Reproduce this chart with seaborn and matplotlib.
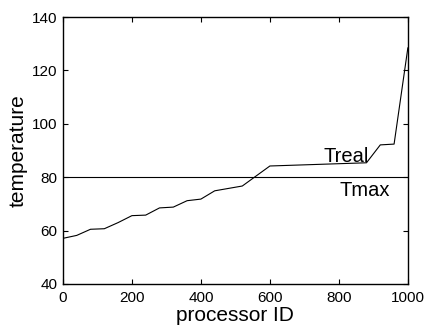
import matplotlib
matplotlib.use("Agg")
import matplotlib.pyplot as plt
import seaborn as sns
import pandas as pd

processor_id = [0, 40, 80, 120, 160, 200, 240, 280, 320, 360, 400, 440, 480, 520, 600, 880, 920, 960, 1000]
treal = [57.1, 58.2, 60.5, 60.7, 63.0, 65.6, 65.8, 68.5, 68.8, 71.2, 71.8, 74.9, 75.8, 76.7, 84.2, 85.4, 92.1, 92.4, 128.5]
tmax_x = [0, 1000]
tmax = [80, 80]

sns.set_style("white")
plt.rcParams['font.family'] = ['Liberation Sans', 'DejaVu Sans']
plt.rcParams['text.color'] = 'black'
plt.rcParams['axes.labelcolor'] = 'black'
plt.rcParams['xtick.color'] = 'black'
plt.rcParams['ytick.color'] = 'black'

fig = plt.figure(figsize=(4.28, 3.27), dpi=100)
ax = fig.add_axes([0.147, 0.1315, 0.806, 0.8165])

df = pd.DataFrame({"processor ID": processor_id, "temperature": treal})
sns.lineplot(data=df, x="processor ID", y="temperature", color="black", linewidth=0.8, ax=ax)
sns.lineplot(x=tmax_x, y=tmax, color="black", linewidth=0.8, ax=ax)

ax.set_xlim(0, 1000)
ax.set_ylim(40, 140)
ax.set_xticks([0, 200, 400, 600, 800, 1000])
ax.set_yticks([40, 60, 80, 100, 120, 140])
ax.tick_params(axis='both', which='both', direction='in', labelsize=11, length=3.5, width=0.8,
               color='black', labelcolor='black', bottom=True, top=True, left=True, right=True,
               labeltop=False, labelright=False)
ax.tick_params(axis='x', pad=5)
ax.tick_params(axis='y', pad=4)
for s in ax.spines.values():
    s.set_color('black')
    s.set_linewidth(1.0)

ax.set_xlabel("processor ID", fontsize=15, labelpad=1, color='black')
ax.set_ylabel("temperature", fontsize=15, labelpad=3, color='black')

ax.text(754, 85.8, "Treal", fontsize=14.5, ha='left', va='baseline', color='black')
ax.text(803, 73.1, "Tmax", fontsize=14.5, ha='left', va='baseline', color='black')

fig.savefig("out.png", dpi=100)
